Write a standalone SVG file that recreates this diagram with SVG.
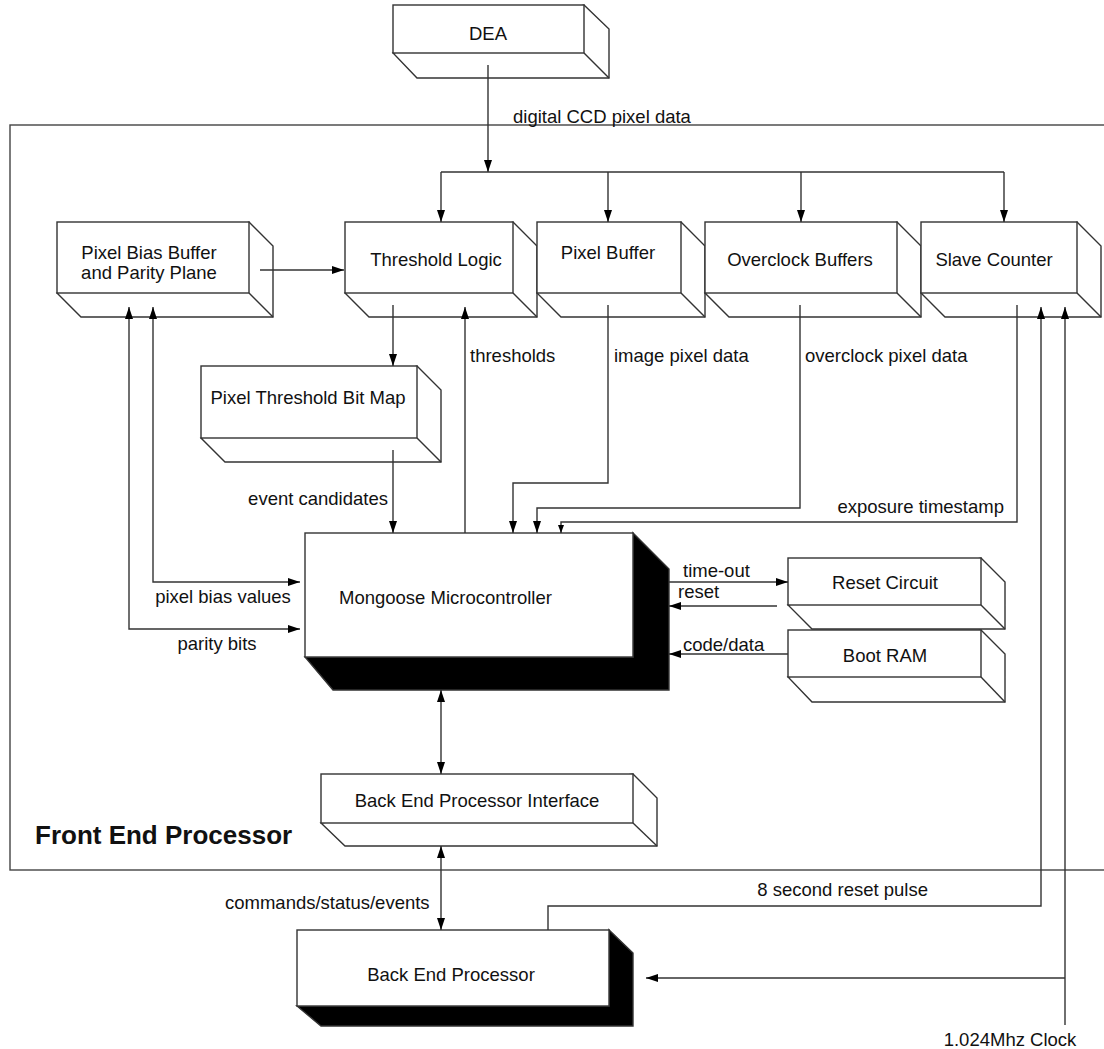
<svg xmlns="http://www.w3.org/2000/svg" width="1104" height="1049" viewBox="0 0 1104 1049">
  <style>
    .box { fill: #fff; stroke: #333; stroke-width: 1.4; stroke-linejoin: miter; }
    .shadow { fill: #000; stroke: #333; stroke-width: 1.4; }
    .wire { fill: none; stroke: #333; stroke-width: 1.4; }
    .frame { fill: none; stroke: #444; stroke-width: 1.4; }
    text { font-family: "Liberation Sans", Arial, Helvetica, sans-serif; font-size: 18.5px; fill: #111; }
    .mid { text-anchor: middle; }
    .end { text-anchor: end; }
    .title { font-size: 26px; font-weight: bold; }
  </style>
  <defs>
    <marker id="arr" viewBox="0 0 12 8" refX="12" refY="4" markerWidth="12" markerHeight="8" markerUnits="userSpaceOnUse" orient="auto-start-reverse">
      <path d="M0,0 L12,4 L0,8 z" fill="#000"/>
    </marker>
    <marker id="arrSmall" viewBox="0 0 8 6" refX="8" refY="3" markerWidth="8" markerHeight="6" markerUnits="userSpaceOnUse" orient="auto">
      <path d="M0,0 L8,3 L0,6 z" fill="#000"/>
    </marker>
  </defs>

  <!-- Front End Processor enclosure -->
  <g id="front-end-frame">
    <rect class="frame" x="10" y="125" width="1110" height="745"/>
    <text class="title" x="35" y="844">Front End Processor</text>
  </g>

  <!-- Nodes: front face plus right and bottom faces -->
  <g id="dea">
    <path class="box" d="M584,5 L609,29 L609,78 L417,78 L393,53 Z"/>
    <rect class="box" x="393" y="5" width="191" height="48"/>
    <path class="wire" d="M584,53 L609,78"/>
    <text class="mid" x="488" y="40">DEA</text>
  </g>

  <g id="pixel-bias-buffer">
    <path class="box" d="M249,222 L273,246 L273,317 L81,317 L57,293 Z"/>
    <rect class="box" x="57" y="222" width="192" height="71"/>
    <path class="wire" d="M249,293 L273,317"/>
    <text class="mid" x="149" y="259">Pixel Bias Buffer</text>
    <text class="mid" x="149" y="279">and Parity Plane</text>
  </g>

  <g id="threshold-logic">
    <path class="box" d="M513,222 L537,246 L537,317 L369,317 L345,293 Z"/>
    <rect class="box" x="345" y="222" width="168" height="71"/>
    <path class="wire" d="M513,293 L537,317"/>
    <text class="mid" x="436" y="266">Threshold Logic</text>
  </g>

  <g id="pixel-buffer">
    <path class="box" d="M681,222 L705,246 L705,317 L561,317 L537,293 Z"/>
    <rect class="box" x="537" y="222" width="144" height="71"/>
    <path class="wire" d="M681,293 L705,317"/>
    <text class="mid" x="608" y="259">Pixel Buffer</text>
  </g>

  <g id="overclock-buffers">
    <path class="box" d="M897,222 L921,246 L921,317 L729,317 L705,293 Z"/>
    <rect class="box" x="705" y="222" width="192" height="71"/>
    <path class="wire" d="M897,293 L921,317"/>
    <text class="mid" x="800" y="266">Overclock Buffers</text>
  </g>

  <g id="slave-counter">
    <path class="box" d="M1077,222 L1101,246 L1101,317 L945,317 L921,293 Z"/>
    <rect class="box" x="921" y="222" width="156" height="71"/>
    <path class="wire" d="M1077,293 L1101,317"/>
    <text class="mid" x="994" y="266">Slave Counter</text>
  </g>

  <g id="pixel-threshold-bit-map">
    <path class="box" d="M417,366 L441,390 L441,462 L225,462 L201,438 Z"/>
    <rect class="box" x="201" y="366" width="216" height="72"/>
    <path class="wire" d="M417,438 L441,462"/>
    <text class="mid" x="308" y="404">Pixel Threshold Bit Map</text>
  </g>

  <g id="mongoose">
    <path class="shadow" d="M305,657 L633,657 L633,533 L669,569 L669,690 L333,690 Z"/>
    <rect class="box" x="305" y="533" width="328" height="124"/>
    <text x="339" y="604">Mongoose Microcontroller</text>
  </g>

  <g id="reset-circuit">
    <path class="box" d="M981,558 L1005,582 L1005,629 L812,629 L788,605 Z"/>
    <rect class="box" x="788" y="558" width="193" height="47"/>
    <path class="wire" d="M981,605 L1005,629"/>
    <text class="mid" x="885" y="589">Reset Circuit</text>
  </g>

  <g id="boot-ram">
    <path class="box" d="M981,630 L1005,654 L1005,702 L812,702 L788,677 Z"/>
    <rect class="box" x="788" y="630" width="193" height="47"/>
    <path class="wire" d="M981,677 L1005,702"/>
    <text class="mid" x="885" y="662">Boot RAM</text>
  </g>

  <g id="back-end-interface">
    <path class="box" d="M633,774 L657,798 L657,846 L345,846 L321,823 Z"/>
    <rect class="box" x="321" y="774" width="312" height="49"/>
    <path class="wire" d="M633,823 L657,846"/>
    <text class="mid" x="477" y="807">Back End Processor Interface</text>
  </g>

  <g id="back-end-processor">
    <path class="shadow" d="M297,1006 L609,1006 L609,930 L633,953 L633,1026 L321,1026 Z"/>
    <rect class="box" x="297" y="930" width="312" height="76"/>
    <text class="mid" x="451" y="981">Back End Processor</text>
  </g>

  <!-- Connectors -->
  <g id="connectors">
    <path class="wire" d="M488,65 V172" marker-end="url(#arr)"/>
    <path class="wire" d="M441,172 H1004"/>
    <path class="wire" d="M441,172 V222" marker-end="url(#arr)"/>
    <path class="wire" d="M608,172 V222" marker-end="url(#arr)"/>
    <path class="wire" d="M801,172 V222" marker-end="url(#arr)"/>
    <path class="wire" d="M1004,172 V222" marker-end="url(#arr)"/>

    <path class="wire" d="M260,270 H344" marker-end="url(#arr)"/>
    <path class="wire" d="M393,305 V366" marker-end="url(#arr)"/>
    <path class="wire" d="M393,450 V533" marker-end="url(#arr)"/>
    <path class="wire" d="M465,533 V307" marker-end="url(#arr)"/>
    <path class="wire" d="M608,305 V483 H513 V533" marker-end="url(#arr)"/>
    <path class="wire" d="M800,305 V508 H537 V533" marker-end="url(#arr)"/>
    <path class="wire" d="M1017,305 V522 H561 V533" marker-end="url(#arrSmall)"/>

    <path class="wire" d="M153,307 V582 H300" marker-start="url(#arr)" marker-end="url(#arr)"/>
    <path class="wire" d="M129,307 V629 H300" marker-start="url(#arr)" marker-end="url(#arr)"/>

    <path class="wire" d="M669,582 H788" marker-end="url(#arr)"/>
    <path class="wire" d="M777,606 H669" marker-end="url(#arr)"/>
    <path class="wire" d="M788,654 H669" marker-end="url(#arr)"/>

    <path class="wire" d="M441,690 V774" marker-start="url(#arr)" marker-end="url(#arr)"/>
    <path class="wire" d="M441,846 V930" marker-start="url(#arr)" marker-end="url(#arr)"/>

    <path class="wire" d="M548,930 V906 H1041 V307" marker-end="url(#arr)"/>
    <path class="wire" d="M1065,1025 V307" marker-end="url(#arr)"/>
    <path class="wire" d="M1065,978 H646" marker-end="url(#arr)"/>
  </g>

  <!-- Connector labels -->
  <g id="labels">
    <text x="513" y="123">digital CCD pixel data</text>
    <text x="470" y="362">thresholds</text>
    <text x="614" y="362">image pixel data</text>
    <text x="805" y="362">overclock pixel data</text>
    <text class="end" x="388" y="505">event candidates</text>
    <text class="end" x="1004" y="513">exposure timestamp</text>
    <text class="mid" x="223" y="603">pixel bias values</text>
    <text class="mid" x="217" y="650">parity bits</text>
    <text x="683" y="577">time-out</text>
    <text x="678" y="598">reset</text>
    <text x="683" y="651">code/data</text>
    <text x="225" y="909">commands/status/events</text>
    <text class="end" x="928" y="896">8 second reset pulse</text>
    <text class="mid" x="1010" y="1046">1.024Mhz Clock</text>
  </g>
</svg>
